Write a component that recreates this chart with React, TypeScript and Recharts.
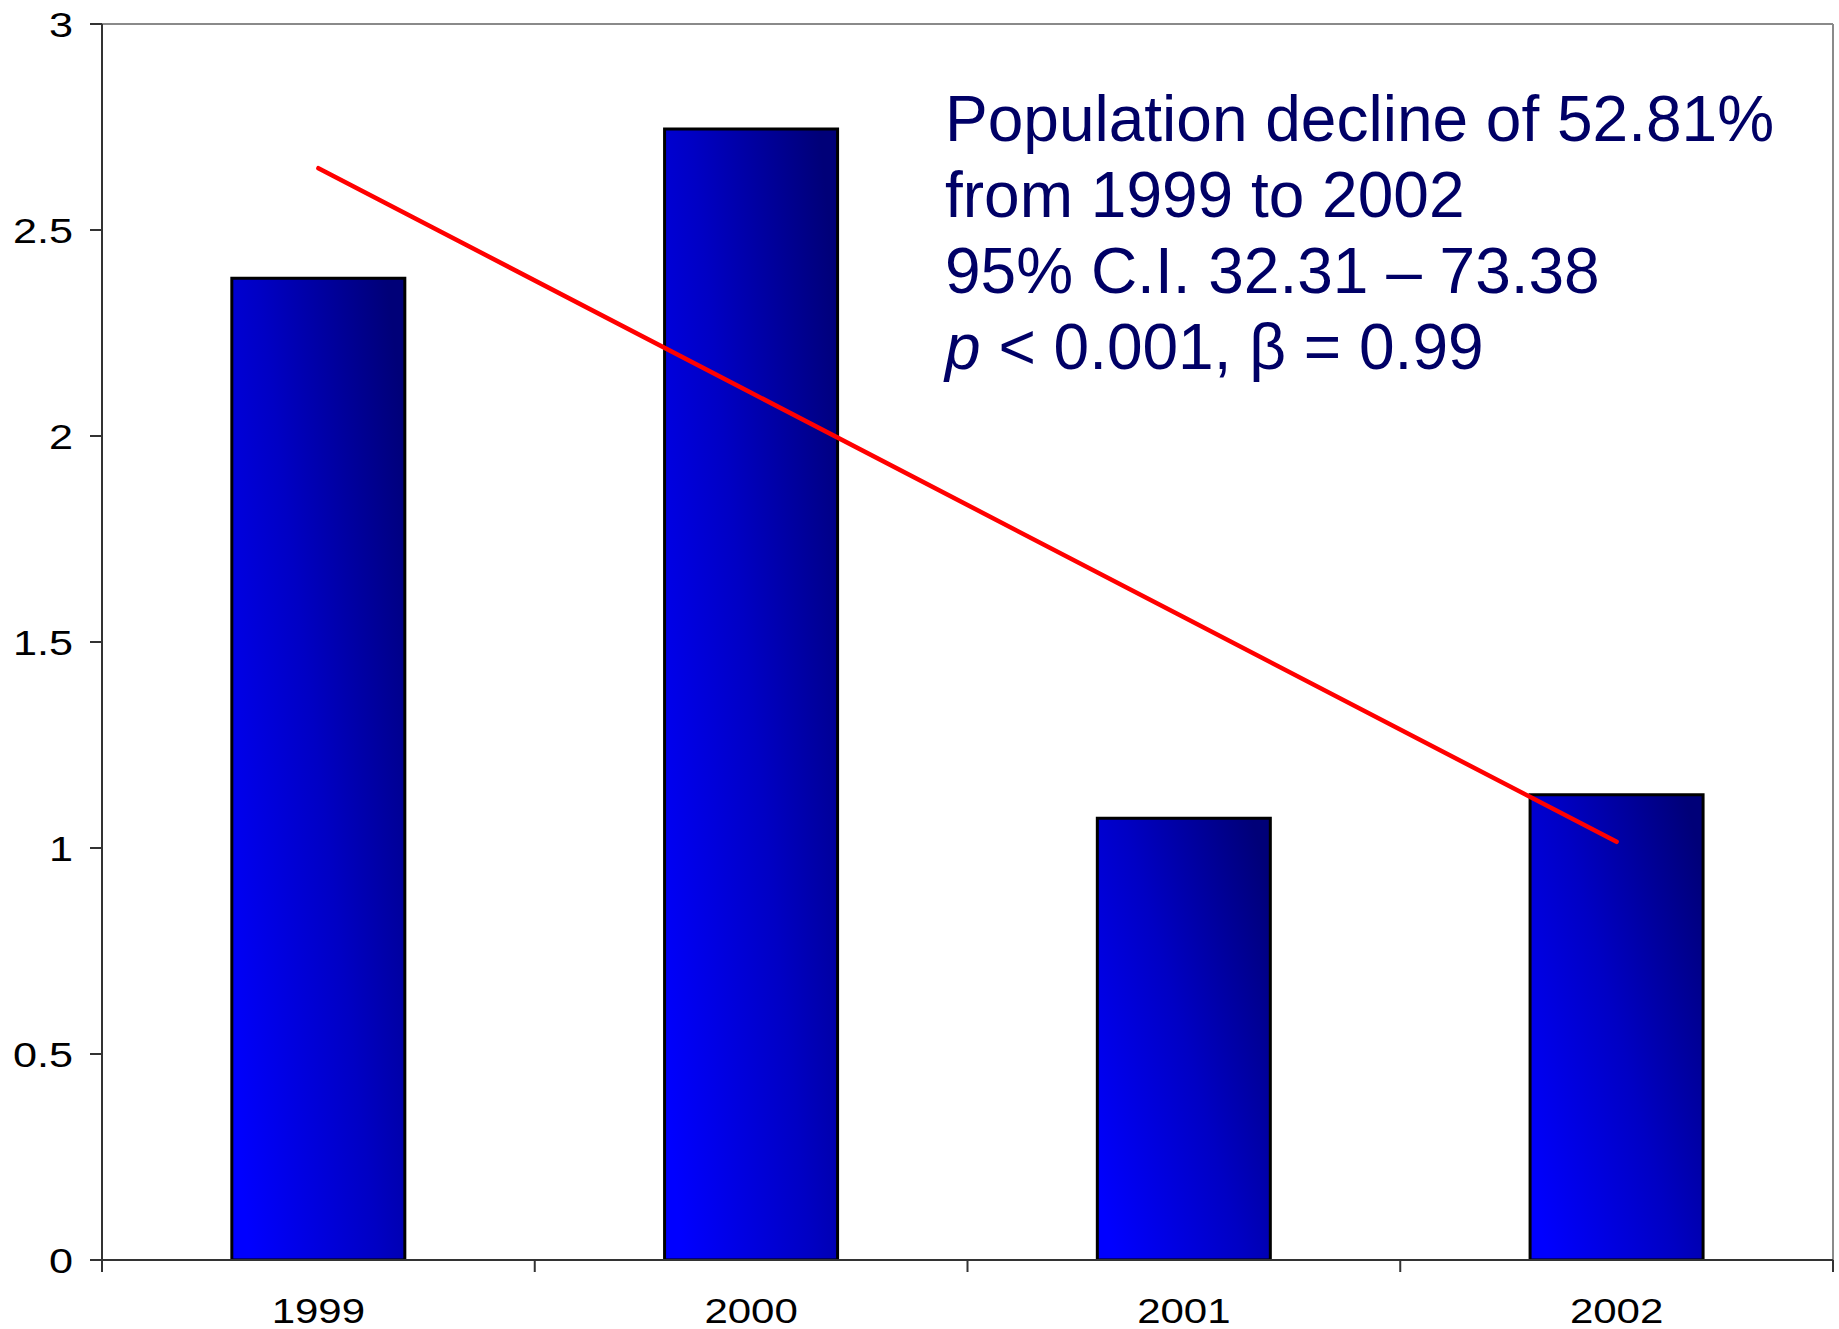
import React from "react";
import {
  ComposedChart,
  Bar,
  Line,
  XAxis,
  YAxis,
  ReferenceLine,
} from "recharts";

const years = ["1999", "2000", "2001", "2002"];
const populationIndex = [2.383, 2.745, 1.072, 1.129];
const trendValues = [2.65, 2.105, 1.56, 1.015];
const categoryCentres = [0.5, 1.5, 2.5, 3.5];
const yTicks = [0, 0.5, 1, 1.5, 2, 2.5, 3];
const boundaryTicks = [0, 1, 2, 3, 4];
const annotationLines = [
  "Population decline of 52.81%",
  "from 1999 to 2002",
  "95% C.I. 32.31 \u2013 73.38",
];

const data = years.map((year, i) => ({
  year,
  pos: categoryCentres[i],
  value: populationIndex[i],
  trend: trendValues[i],
}));

const FONT = "'Liberation Sans', Arial, Helvetica, sans-serif";

const YTick = (props: any) => {
  const { x, y, payload } = props;
  return (
    <g transform={`translate(${x},${y}) scale(1.2,1)`}>
      <text
        x={0}
        y={0}
        dy="0.36em"
        textAnchor="end"
        fill="#000"
        fontSize={36}
        fontFamily={FONT}
      >
        {String(payload.value)}
      </text>
    </g>
  );
};

const XTick = (props: any) => {
  const { x, y, payload } = props;
  return (
    <g transform={`translate(${x},${y + 62}) scale(1.2,1)`}>
      <text
        x={0}
        y={0}
        textAnchor="middle"
        fill="#000"
        fontSize={35}
        fontFamily={FONT}
      >
        {payload.value}
      </text>
    </g>
  );
};

const EmptyTick = () => <g />;

export default function App() {
  return (
    <div
      style={{
        position: "fixed",
        left: 0,
        top: 0,
        width: 1839,
        height: 1329,
        background: "#fff",
      }}
    >
      <ComposedChart
        width={1839}
        height={1329}
        data={data}
        margin={{ top: 24, right: 6, bottom: 0, left: 0 }}
        barCategoryGap="30%"
      >
        <defs>
          <linearGradient id="barGrad" x1="0" y1="0.85" x2="1" y2="0.15">
            <stop offset="0%" stopColor="#0000FF" />
            <stop offset="50%" stopColor="#0000C4" />
            <stop offset="100%" stopColor="#000078" />
          </linearGradient>
        </defs>
        <XAxis
          xAxisId="b"
          type="number"
          dataKey="pos"
          domain={[0, 4]}
          ticks={boundaryTicks}
          height={1}
          tick={EmptyTick}
          tickSize={12}
          tickLine={{ stroke: "#333", strokeWidth: 2 }}
          axisLine={{ stroke: "#333", strokeWidth: 2 }}
        />
        <XAxis
          xAxisId="cat"
          dataKey="year"
          type="category"
          height={68}
          tick={XTick}
          tickLine={false}
          axisLine={false}
          tickSize={0}
          tickMargin={0}
          interval={0}
        />
        <YAxis
          width={102}
          domain={[0, 3]}
          ticks={yTicks}
          tick={YTick}
          tickSize={12}
          tickMargin={17}
          tickLine={{ stroke: "#333", strokeWidth: 2 }}
          axisLine={{ stroke: "#333", strokeWidth: 2 }}
          allowDataOverflow
        />
        <ReferenceLine
          xAxisId="cat"
          y={3}
          stroke="#8a8a8a"
          strokeWidth={2}
        />
        <ReferenceLine
          xAxisId="b"
          x={4}
          stroke="#8a8a8a"
          strokeWidth={2}
        />
        <Bar
          xAxisId="cat"
          dataKey="value"
          fill="url(#barGrad)"
          stroke="#000"
          strokeWidth={3}
          isAnimationActive={false}
        />
        <Line
          xAxisId="cat"
          dataKey="trend"
          stroke="#FF0000"
          strokeWidth={4.5}
          strokeLinecap="round"
          dot={false}
          activeDot={false}
          isAnimationActive={false}
        />
      </ComposedChart>
      <div
        style={{
          position: "absolute",
          left: 945,
          top: 81,
          fontFamily: FONT,
          fontSize: 64,
          lineHeight: "76px",
          color: "#000066",
          whiteSpace: "nowrap",
        }}
      >
        {annotationLines.map((line) => (
          <div key={line}>{line}</div>
        ))}
        <div>
          <i>p</i> &lt; 0.001, {"\u03B2"} = 0.99
        </div>
      </div>
    </div>
  );
}
